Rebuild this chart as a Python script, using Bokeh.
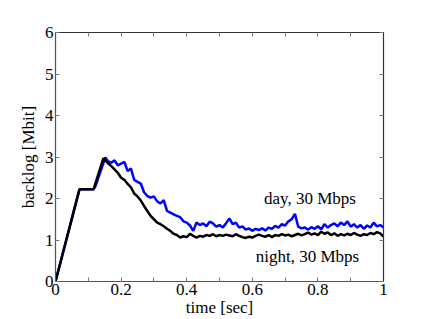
from bokeh.plotting import figure
from bokeh.models import LinearAxis, FixedTicker, Range1d, CustomJSTickFormatter
from bokeh.core.properties import value
from bokeh.embed import file_html
from bokeh.resources import INLINE

# ---- data ----
night_t = [0, 0.073, 0.116, 0.146,
           0.15, 0.16, 0.17, 0.18, 0.19, 0.20, 0.21, 0.22, 0.23, 0.24, 0.25, 0.26, 0.27, 0.28, 0.29,
           0.30, 0.31, 0.32, 0.33, 0.34, 0.35, 0.36, 0.37, 0.38, 0.39, 0.40, 0.41, 0.42, 0.43, 0.44,
           0.45, 0.46, 0.47, 0.48, 0.49, 0.50, 0.51, 0.52, 0.53, 0.54, 0.55, 0.56, 0.57, 0.58, 0.59,
           0.60, 0.61, 0.62, 0.63, 0.64, 0.65, 0.66, 0.67, 0.68, 0.69, 0.70, 0.71, 0.72, 0.73, 0.74,
           0.75, 0.76, 0.77, 0.78, 0.79, 0.80, 0.81, 0.82, 0.83, 0.84, 0.85, 0.86, 0.87, 0.88, 0.89,
           0.90, 0.91, 0.92, 0.93, 0.94, 0.95, 0.96, 0.97, 0.98, 0.99, 1.00]
night_v = [0, 2.22, 2.22, 2.97,
           2.93, 2.85, 2.78, 2.70, 2.62, 2.50, 2.45, 2.35, 2.27, 2.12, 2.05, 1.95, 1.82, 1.70, 1.58,
           1.50, 1.42, 1.38, 1.33, 1.27, 1.22, 1.15, 1.12, 1.06, 1.09, 1.07, 1.15, 1.10, 1.06, 1.10,
           1.08, 1.12, 1.10, 1.14, 1.09, 1.12, 1.10, 1.13, 1.11, 1.09, 1.14, 1.10, 1.07, 1.05, 1.08,
           1.06, 1.10, 1.13, 1.10, 1.08, 1.12, 1.07, 1.12, 1.10, 1.14, 1.11, 1.13, 1.09, 1.12, 1.15,
           1.11, 1.14, 1.18, 1.13, 1.16, 1.12, 1.20, 1.15, 1.18, 1.12, 1.16, 1.10, 1.14, 1.11, 1.15,
           1.12, 1.17, 1.13, 1.10, 1.14, 1.12, 1.17, 1.14, 1.19, 1.16, 1.08]

day_t = [0, 0.073, 0.116, 0.122, 0.152,
         0.16, 0.17, 0.18, 0.19, 0.20, 0.21, 0.22, 0.23, 0.24, 0.25, 0.26, 0.27, 0.28, 0.29,
         0.30, 0.31, 0.32, 0.33, 0.34, 0.35, 0.36, 0.37, 0.38, 0.39, 0.40, 0.41, 0.42, 0.43, 0.44,
         0.45, 0.46, 0.47, 0.48, 0.49, 0.50, 0.51, 0.52, 0.53, 0.54, 0.55, 0.56, 0.57, 0.58, 0.59,
         0.60, 0.61, 0.62, 0.63, 0.64, 0.65, 0.66, 0.67, 0.68, 0.69, 0.70, 0.71, 0.72, 0.73, 0.74,
         0.75, 0.76, 0.77, 0.78, 0.79, 0.80, 0.81, 0.82, 0.83, 0.84, 0.85, 0.86, 0.87, 0.88, 0.89,
         0.90, 0.91, 0.92, 0.93, 0.94, 0.95, 0.96, 0.97, 0.98, 0.99, 1.00]
day_v = [0, 2.22, 2.22, 2.30, 2.99,
         2.90, 2.86, 2.92, 2.80, 2.84, 2.88, 2.66, 2.72, 2.45, 2.40, 2.36, 2.15, 2.06, 2.02,
         2.05, 1.93, 1.88, 1.96, 1.70, 1.66, 1.62, 1.58, 1.55, 1.45, 1.42, 1.35, 1.22, 1.42, 1.36,
         1.40, 1.33, 1.44, 1.40, 1.32, 1.36, 1.30, 1.40, 1.52, 1.38, 1.42, 1.30, 1.33, 1.25, 1.28,
         1.22, 1.27, 1.24, 1.28, 1.23, 1.30, 1.27, 1.34, 1.30, 1.38, 1.35, 1.45, 1.50, 1.63, 1.32,
         1.28, 1.30, 1.25, 1.31, 1.27, 1.33, 1.26, 1.38, 1.30, 1.36, 1.40, 1.33, 1.42, 1.36, 1.45,
         1.32, 1.38, 1.30, 1.36, 1.27, 1.35, 1.30, 1.42, 1.33, 1.36, 1.30]

x_major = [0, 0.2, 0.4, 0.6, 0.8, 1.0]
x_minor = [0.1, 0.3, 0.5, 0.7, 0.9]
y_major = [0, 1, 2, 3, 4, 5, 6]
labels = ["day, 30 Mbps", "night, 30 Mbps"]
label_x = [0.776, 0.768]
label_y = [2.01, 0.60]

FONT = "Liberation Serif"
FS = "17px"

p = figure(width=424, height=319, output_backend="svg", toolbar_location=None,
           x_range=Range1d(0, 1), y_range=Range1d(0, 6),
           min_border_left=55, min_border_right=41, min_border_top=32, min_border_bottom=36,
           x_axis_label="time [sec]", y_axis_label="backlog [Mbit]")
p.grid.visible = False
p.outline_line_color = "#333333"
p.outline_line_width = 1.2

p.xaxis.ticker = FixedTicker(ticks=x_major, minor_ticks=x_minor)
p.yaxis.ticker = FixedTicker(ticks=y_major)
p.xaxis.major_label_overrides = {0: "0", 1: "1"}

for ax in [p.xaxis[0], p.yaxis[0]]:
    ax.axis_line_color = "#555555"
    ax.major_tick_in = 4
    ax.major_tick_out = 0
    ax.minor_tick_in = 4
    ax.minor_tick_out = 0
    ax.major_tick_line_color = "#777777"
    ax.minor_tick_line_color = "#777777"
    ax.major_label_text_font = FONT
    ax.major_label_text_font_size = FS
    ax.major_label_text_color = "black"
    ax.axis_label_text_font = FONT
    ax.axis_label_text_font_size = FS
    ax.axis_label_text_font_style = "normal"
    ax.axis_label_text_color = "black"
    ax.major_label_standoff = 2
    ax.axis_label_standoff = 0
p.yaxis.axis_label_standoff = 4

blank = CustomJSTickFormatter(code="return ''")
top = LinearAxis(ticker=FixedTicker(ticks=x_major, minor_ticks=x_minor), formatter=blank)
right = LinearAxis(ticker=FixedTicker(ticks=y_major), formatter=blank)
for ax in [top, right]:
    ax.axis_line_color = "#333333"
    ax.major_tick_in = 4
    ax.major_tick_out = 0
    ax.minor_tick_in = 4
    ax.minor_tick_out = 0
    ax.major_tick_line_color = "#777777"
    ax.minor_tick_line_color = "#777777"
    ax.major_label_text_font_size = "0px"
    ax.major_label_standoff = 0
p.add_layout(top, "above")
p.add_layout(right, "right")

p.line(day_t, day_v, line_color="#0000ff", line_width=2.5)
p.line(night_t, night_v, line_color="black", line_width=2.5)

p.text(x=label_x, y=label_y, text=labels, text_font=value(FONT), text_font_size=FS,
       text_align="center", text_baseline="middle", text_color="black")

open("out.html", "w").write(file_html(p, INLINE))
